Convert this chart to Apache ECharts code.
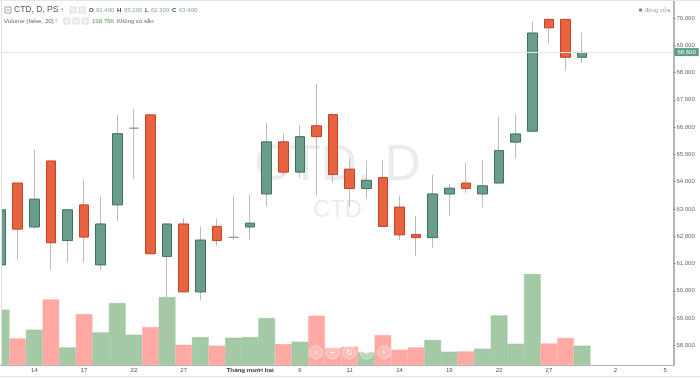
<!DOCTYPE html>
<html>
<head>
<meta charset="utf-8">
<style>
    html, body { margin: 0; padding: 0; background: #fff; }
    #chart { width: 700px; height: 378px; }
</style>
<script src="https://cdn.jsdelivr.net/npm/echarts@6/dist/echarts.min.js"></script>
</head>
<body>
<div id="chart"></div>
<script>
// tick labels sit on the category they belong to, the rest stay empty
const categories = ['', '', '14', '', '', '17', '', '', '22', '', '', '27', '', '', '', 'Tháng mười hai', '', '', '6', '', '', '11', '', '', '14', '', '', '19', '', '', '22', '', '', '27', '', '', '', '2', '', '', '5'];
const opens = [60.95, 63.95, 62.34, 64.76, 61.84, 63.15, 60.95, 63.15, 65.96, 66.45, 61.26, 62.45, 59.96, 62.36, 61.96, 62.34, 63.55, 65.46, 64.35, 66.05, 66.46, 64.46, 63.75, 64.15, 63.07, 62.06, 61.95, 63.55, 63.95, 63.55, 63.95, 65.45, 65.85, 69.95, 69.95, 68.56];
const closes = [62.97, 62.26, 63.36, 61.76, 62.97, 61.97, 62.45, 65.76, 65.96, 61.36, 62.45, 59.96, 61.86, 61.84, 61.96, 62.48, 65.46, 64.35, 65.65, 65.65, 64.26, 63.75, 64.05, 62.36, 62.05, 61.95, 63.55, 63.76, 63.75, 63.85, 65.14, 65.75, 69.45, 69.64, 68.56, 68.74];
const lows = [60.95, 61.14, 62.27, 60.77, 61.03, 61.03, 60.77, 62.56, 64.10, 61.36, 57.95, 59.96, 59.67, 61.65, 61.87, 61.87, 63.08, 64.25, 64.14, 63.48, 63.96, 63.08, 63.37, 62.36, 61.87, 61.28, 61.58, 62.75, 63.58, 63.05, 63.95, 64.84, 65.85, 69.05, 68.06, 68.36];
const highs = [62.97, 63.95, 65.16, 64.76, 62.97, 64.09, 63.48, 66.45, 66.67, 66.45, 62.45, 62.67, 62.36, 62.64, 63.48, 63.52, 66.15, 65.79, 66.08, 67.58, 66.46, 64.84, 64.77, 64.80, 63.48, 62.75, 64.26, 63.92, 64.69, 64.80, 66.38, 66.48, 69.89, 69.95, 69.95, 69.48];
const volumes = [570, 274, 364, 676, 181, 525, 336, 639, 312, 391, 700, 209, 288, 199, 281, 288, 484, 216, 240, 508, 175, 188, 130, 309, 158, 181, 258, 137, 140, 168, 511, 219, 937, 222, 278, 199];
const priceTicks = [58, 59, 60, 61, 62, 63, 64, 65, 66, 67, 68, 69, 70];
const lastPrice = 68.75;
const lastPriceLabel = '68.600';

const GREEN = '#6a9d8b';
const GREEN_EDGE = '#3f6f60';
const ORANGE = '#e8633f';
const ORANGE_EDGE = '#bd452a';
const WICK = '#bcbcbc';
const FONT = '"Liberation Sans", Arial, sans-serif';

const isUp = (i) => closes[i] >= opens[i];

const wickData = opens.map((o, i) => [o, closes[i], lows[i], highs[i]]);
const bodyData = opens.map((o, i) => {
    const top = Math.max(o, closes[i]);
    const bottom = Math.min(o, closes[i]);
    const item = { value: [o, closes[i], bottom, top] };
    if (o === closes[i]) {
        // doji days show as a plain grey dash
        item.itemStyle = { color: '#999', borderColor: '#999', color0: '#999', borderColor0: '#999', borderColorDoji: '#999' };
    }
    return item;
});
const volumeData = volumes.map((v, i) => ({
    value: v,
    itemStyle: {
        color: isUp(i) ? '#a3c9a5' : '#ffa9a4',
        borderColor: isUp(i) ? '#96bf99' : '#ffa9a4',
        borderWidth: 0.5
    }
}));

const text = (x, y, str, size, color, extra) => ({
    type: 'text',
    x: x,
    y: y,
    z: 50,
    style: Object.assign({ text: str, fontSize: size, fill: color, fontFamily: FONT, textVerticalAlign: 'middle' }, extra || {})
});
const box = (x, y, size) => ({
    type: 'rect',
    z: 50,
    shape: { x: x, y: y, width: size, height: size },
    style: { fill: '#f1f1f1', stroke: '#dcdcdc', lineWidth: 1 }
});
const navButton = (x, glyph) => ([
    {
        type: 'circle',
        z: 60,
        shape: { cx: x, cy: 352.5, r: 6.5 },
        style: { fill: 'rgba(255,255,255,0.22)', stroke: 'rgba(235,235,235,0.7)', lineWidth: 1 }
    },
    {
        type: 'text',
        x: x,
        y: 352.5,
        z: 61,
        style: { text: glyph, fontSize: 8, fill: '#ffffff', fontFamily: '"DejaVu Sans"', textAlign: 'center', textVerticalAlign: 'middle' }
    }
]);

const graphics = [
    // watermark
    { type: 'text', x: 337.5, y: 166, z: 0, style: { text: 'CTD, D', fontSize: 50, fill: '#ebebeb', fontFamily: FONT, textAlign: 'center', textVerticalAlign: 'middle' } },
    { type: 'text', x: 337.5, y: 211, z: 0, style: { text: 'CTD', fontSize: 23.5, fill: '#ebebeb', fontFamily: FONT, textAlign: 'center', textVerticalAlign: 'middle' } },

    // frame
    { type: 'rect', z: 40, shape: { x: 0, y: 0, width: 1.5, height: 365 }, style: { fill: '#fff' } },
    { type: 'line', z: 41, shape: { x1: 1.5, y1: 0, x2: 1.5, y2: 365 }, style: { stroke: '#dedede', lineWidth: 1 } },
    { type: 'line', z: 41, shape: { x1: 0, y1: 0.5, x2: 700, y2: 0.5 }, style: { stroke: '#e6e6e6', lineWidth: 1 } },
    { type: 'line', z: 41, shape: { x1: 0, y1: 376.5, x2: 700, y2: 376.5 }, style: { stroke: '#e6e6e6', lineWidth: 1 } },

    // legend rows
    { type: 'rect', z: 50, shape: { x: 5, y: 7, width: 6, height: 6 }, style: { fill: '#fff', stroke: '#888', lineWidth: 0.8 } },
    { type: 'line', z: 50, shape: { x1: 6.5, y1: 10, x2: 9.5, y2: 10 }, style: { stroke: '#888', lineWidth: 0.8 } },
    text(14, 10, 'CTD, D, PS', 8.5, '#555'),
    text(61, 10, '▾', 5, '#aaa'),
    box(70, 7, 6), box(79, 7, 6),
    text(89, 10.5, 'O', 6, '#444', { fontWeight: 'bold' }),
    text(96, 10.5, '62.400', 6, '#7fa9a0'),
    text(117, 10.5, 'H', 6, '#444', { fontWeight: 'bold' }),
    text(124, 10.5, '65.200', 6, '#7fa9a0'),
    text(145, 10.5, 'L', 6, '#444', { fontWeight: 'bold' }),
    text(151, 10.5, '62.300', 6, '#7fa9a0'),
    text(172, 10.5, 'C', 6, '#444', { fontWeight: 'bold' }),
    text(179, 10.5, '63.400', 6, '#7fa9a0'),
    text(4, 21, 'Volume (false, 20)', 6.2, '#666'),
    text(55, 21, '▾', 5, '#bbb'),
    box(64, 18, 6), box(73, 18, 6), box(82, 18, 6),
    text(92, 21.5, '198.75K', 6, '#4f9a5a'),
    text(117, 21.5, 'Không có sẵn', 6, '#666'),
    { type: 'circle', z: 50, shape: { cx: 640.5, cy: 10, r: 1.8 }, style: { fill: '#888' } },
    text(645, 10, 'đóng cửa', 6, '#999')
].concat(
    navButton(316, '‹'),
    navButton(332.7, '−'),
    navButton(349.3, '↻'),
    navButton(366.7, '+'),
    navButton(384, '›')
);

const chart = echarts.init(document.getElementById('chart'), null, { renderer: 'canvas' });

chart.setOption({
    animation: false,
    backgroundColor: '#fff',
    graphic: graphics,
    // first candle starts left of the canvas, so the grid must not be pulled back in
    grid: [
        { left: -7.2, right: 26.6, top: 0, bottom: 13, outerBoundsMode: 'none' },
        { left: -7.2, right: 26.6, top: 268, bottom: 13, outerBoundsMode: 'none' }
    ],
    xAxis: [
        {
            type: 'category',
            gridIndex: 0,
            data: categories,
            axisLine: { show: false },
            axisTick: { show: false },
            axisLabel: { show: false }
        },
        {
            type: 'category',
            gridIndex: 1,
            data: categories,
            axisLine: { lineStyle: { color: '#b0b0b0', width: 1 } },
            axisTick: {
                alignWithLabel: true,
                length: 2,
                interval: (i, v) => v !== '',
                lineStyle: { color: '#999' }
            },
            axisLabel: {
                interval: 0,
                margin: 2,
                hideOverlap: false,
                fontSize: 6,
                color: '#555',
                fontFamily: FONT,
                formatter: (v) => (v.length > 2 ? '{month|' + v + '}' : v),
                rich: { month: { fontSize: 6.2, color: '#333', fontWeight: 'bold', fontFamily: FONT } }
            }
        }
    ],
    yAxis: [
        {
            type: 'value',
            gridIndex: 0,
            position: 'right',
            min: 57.28,
            max: 70.66,
            splitLine: { show: false },
            axisLine: { show: true, lineStyle: { color: '#b5b5b5', width: 2 } },
            axisTick: { show: true, length: 2, customValues: priceTicks, lineStyle: { color: '#888' } },
            axisLabel: {
                margin: 3,
                fontSize: 6,
                color: '#666',
                fontFamily: FONT,
                customValues: priceTicks,
                formatter: (v) => v.toFixed(3)
            }
        },
        {
            type: 'value',
            gridIndex: 1,
            position: 'right',
            min: 0,
            max: 1000,
            show: false
        }
    ],
    series: [
        {
            name: 'Volume',
            type: 'bar',
            xAxisIndex: 1,
            yAxisIndex: 1,
            barWidth: '100%',
            z: 1,
            data: volumeData
        },
        {
            name: 'Wicks',
            type: 'candlestick',
            xAxisIndex: 0,
            yAxisIndex: 0,
            barWidth: 0.5,
            z: 2,
            itemStyle: { color: WICK, color0: WICK, borderColor: WICK, borderColor0: WICK, borderColorDoji: WICK, borderWidth: 1 },
            data: wickData,
            markLine: {
                silent: true,
                symbol: 'none',
                lineStyle: { color: '#e6e6e6', width: 1, type: 'solid' },
                label: {
                    position: 'end',
                    distance: 1,
                    formatter: lastPriceLabel,
                    backgroundColor: '#5f9a88',
                    color: '#fff',
                    fontSize: 6,
                    fontFamily: FONT,
                    padding: [1, 3]
                },
                data: [{ yAxis: lastPrice }]
            }
        },
        {
            name: 'CTD',
            type: 'candlestick',
            xAxisIndex: 0,
            yAxisIndex: 0,
            barWidth: 10,
            z: 3,
            itemStyle: { color: GREEN, color0: ORANGE, borderColor: GREEN_EDGE, borderColor0: ORANGE_EDGE, borderWidth: 1 },
            data: bodyData
        }
    ]
});
</script>
</body>
</html>
